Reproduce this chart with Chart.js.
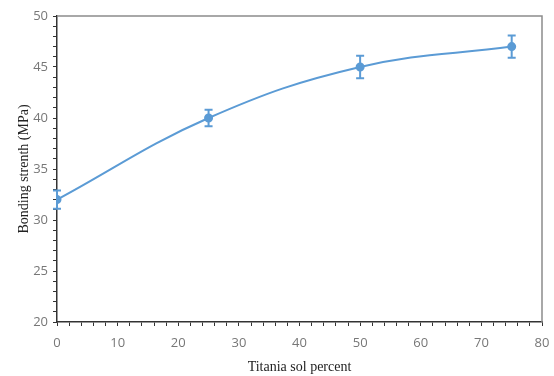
<!DOCTYPE html>
<html>
<head>
<meta charset="utf-8">
<script src="https://cdn.jsdelivr.net/npm/chart.js@4/dist/chart.umd.min.js"></script>
<style>
  html, body { margin: 0; padding: 0; background: #fff; }
  #wrap { width: 554px; height: 376px; }
</style>
</head>
<body>
<div id="wrap"><canvas id="chartStrength"></canvas></div>
<script>
// datos de la serie
const solPercent = [0, 25, 50, 75];
const strength = [32, 40, 45, 47];
const strengthErr = [0.9, 0.8, 1.1, 1.1];

const lineColor = '#5b9bd5';

// barras de error verticales con remate
const errorBars = {
    id: 'errorBars',
    afterDatasetsDraw(chart) {
        const ctx = chart.ctx;
        const x = chart.scales.x;
        const y = chart.scales.y;
        ctx.save();
        ctx.strokeStyle = lineColor;
        ctx.lineWidth = 2;
        solPercent.forEach((p, i) => {
            const px = x.getPixelForValue(p);
            const top = y.getPixelForValue(strength[i] + strengthErr[i]);
            const bot = y.getPixelForValue(strength[i] - strengthErr[i]);
            ctx.beginPath();
            ctx.moveTo(px, top); ctx.lineTo(px, bot);
            ctx.moveTo(px - 4, top); ctx.lineTo(px + 4, top);
            ctx.moveTo(px - 4, bot); ctx.lineTo(px + 4, bot);
            ctx.stroke();
        });
        ctx.restore();
    }
};

// marco superior y derecho
const frame = {
    id: 'frame',
    beforeDatasetsDraw(chart) {
        const { ctx, chartArea: a } = chart;
        ctx.save();
        ctx.strokeStyle = '#8c8c8c';
        ctx.lineWidth = 1.5;
        ctx.beginPath();
        ctx.moveTo(a.left, a.top);
        ctx.lineTo(a.right, a.top);
        ctx.lineTo(a.right, a.bottom);
        ctx.stroke();
        ctx.restore();
    }
};

new Chart(document.getElementById('chartStrength'), {
    type: 'line',
    data: {
        datasets: [{
            data: solPercent.map((p, i) => ({ x: p, y: strength[i] })),
            borderColor: lineColor,
            backgroundColor: lineColor,
            borderWidth: 2,
            tension: 0.4,
            pointRadius: 3.5,
            pointHoverRadius: 3.5
        }]
    },
    options: {
        responsive: true,
        maintainAspectRatio: false,
        animation: false,
        layout: {
            padding: { top: 16, right: 12, left: 12, bottom: 0 }
        },
        plugins: {
            legend: { display: false },
            tooltip: { enabled: false }
        },
        scales: {
            x: {
                type: 'linear',
                min: 0,
                max: 80,
                afterFit: (s) => {
                    s.height = 54;
                    s.paddingRight = 0;
                },
                border: { color: '#333', width: 1.5 },
                grid: {
                    drawOnChartArea: false,
                    color: '#333',
                    tickLength: 4
                },
                ticks: {
                    stepSize: 2,
                    autoSkip: false,
                    maxRotation: 0,
                    padding: 9,
                    color: '#777',
                    font: { family: 'Open Sans', size: 13 },
                    callback: (v) => (v % 10 === 0 ? v : '')
                },
                title: {
                    display: true,
                    text: 'Titania sol percent',
                    color: '#222',
                    font: { family: 'Liberation Serif', size: 14 },
                    padding: { top: 4, bottom: 0 }
                }
            },
            y: {
                min: 20,
                max: 50,
                afterFit: (s) => { s.width = 45; },
                border: { color: '#333', width: 1.5 },
                grid: {
                    drawOnChartArea: false,
                    color: '#333',
                    tickLength: 4
                },
                ticks: {
                    stepSize: 1,
                    autoSkip: false,
                    padding: 5,
                    color: '#777',
                    font: { family: 'Open Sans', size: 13 },
                    callback: (v) => (v % 5 === 0 ? v : '')
                },
                title: {
                    display: true,
                    text: 'Bonding strenth (MPa)',
                    color: '#222',
                    font: { family: 'Liberation Serif', size: 14 },
                    padding: { bottom: 0 }
                }
            }
        }
    },
    plugins: [frame, errorBars]
});
</script>
</body>
</html>
